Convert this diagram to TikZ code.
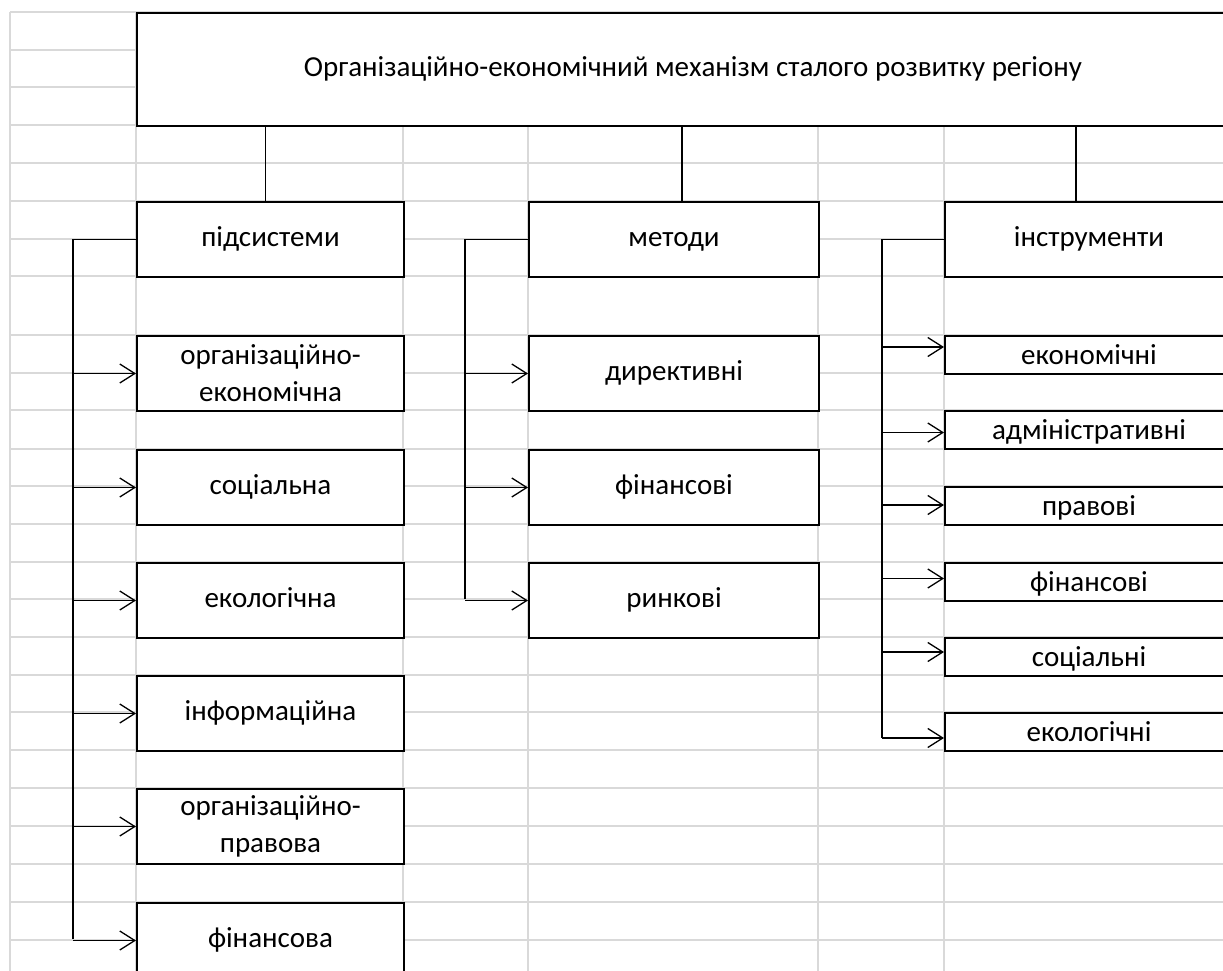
\documentclass[tikz,border=0pt]{standalone}
\usepackage{fontspec}
\setmainfont{Carlito}
\usetikzlibrary{arrows.meta}
\definecolor{gridc}{HTML}{D9D9D9}
\newcommand{\txtfont}{\fontsize{29}{37}\selectfont}
\tikzset{
  gridline/.style={draw=gridc, line width=1.3pt},
  box/.style={draw=black, line width=2pt, fill=white, inner sep=0pt, align=center,
              font=\txtfont, anchor=north west, text height=21pt, text depth=7.5pt},
  twoline/.style={text height=, text depth=},
  lbox/.style={box, minimum width=267pt, minimum height=75pt},
  mbox/.style={box, minimum width=290pt, minimum height=75pt},
  rbox/.style={box, minimum width=288pt, minimum height=38pt, text depth=2pt},
  conn/.style={draw=black, line width=1.3pt},
  arr/.style={conn, -{Straight Barb[length=15pt,width=19pt,line width=1.3pt]}},
}
\begin{document}
\begin{tikzpicture}[x=1pt,y=-1pt]
\useasboundingbox (0,0) rectangle (1223,971);
\clip (0,0) rectangle (1223,971);
\fill[white] (0,0) rectangle (1223,971);
% spreadsheet grid
\foreach \yy in {12,50,87,125,163,201,239,276,335,373,410,449,486,524,562,599,637,675,712,750,788,826,864,902,940}
  \draw[gridline] (10,\yy) -- (1230,\yy);
\foreach \xx in {10,136,403,528,818,944}
  \draw[gridline] (\xx,12) -- (\xx,980);
% main box
\node[box, minimum width=1112pt, minimum height=113pt] (main) at (136,12)
  {Організаційно-економічний механізм сталого розвитку регіону};
% column heads
\node[lbox] (sub) at (136,201) {підсистеми};
\node[mbox] (met) at (528,201) {методи};
\node[box, minimum width=288pt, minimum height=75pt] (ins) at (944,201) {інструменти};
% left column
\node[lbox, twoline] (s1) at (136,335) {організаційно-\\економічна};
\node[lbox] (s2) at (136,449) {соціальна};
\node[lbox] (s3) at (136,562) {екологічна};
\node[lbox] (s4) at (136,675) {інформаційна};
\node[lbox, twoline] (s5) at (136,788) {організаційно-\\правова};
\node[lbox] (s6) at (136,902) {фінансова};
% middle column
\node[mbox] (m1) at (528,335) {директивні};
\node[mbox] (m2) at (528,449) {фінансові};
\node[mbox] (m3) at (528,562) {ринкові};
% right column
\node[rbox] (r1) at (944,335) {економічні};
\node[rbox] (r2) at (944,410) {адміністративні};
\node[rbox] (r3) at (944,486) {правові};
\node[rbox] (r4) at (944,562) {фінансові};
\node[rbox] (r5) at (944,637) {соціальні};
\node[rbox] (r6) at (944,712) {екологічні};
% connectors from main box
\draw[conn] ([xshift=-5pt]sub.north) -- ([xshift=-5pt]sub.north |- main.south);
\draw[conn] ([xshift=8pt]met.north) -- ([xshift=8pt]met.north |- main.south);
\draw[conn] ([xshift=-13pt]ins.north) -- ([xshift=-13pt]ins.north |- main.south);
% left bracket
\coordinate (lb) at (73,939);
\draw[conn] (sub.west) -| (lb);
\foreach \n in {s1,s2,s3,s4,s5,s6}
  \draw[arr] (lb |- \n.west) -- (\n.west);
% middle bracket
\coordinate (mb) at (465,599);
\draw[conn] (met.west) -| (mb);
\foreach \n in {m1,m2,m3}
  \draw[arr] (mb |- \n.west) -- (\n.west);
% right bracket
\coordinate (rb) at (882,738);
\draw[conn] (ins.west) -| (rb);
\coordinate (t1) at ([yshift=8pt]r1.west);
\coordinate (t2) at ([yshift=-2.5pt]r2.west);
\coordinate (t3) at ([yshift=1pt]r3.west);
\coordinate (t4) at ([yshift=3.5pt]r4.west);
\coordinate (t5) at ([yshift=5pt]r5.west);
\coordinate (t6) at ([yshift=-6pt]r6.west);
\foreach \t in {t1,t2,t3,t4,t5,t6}
  \draw[arr] (rb |- \t) -- (\t);
\end{tikzpicture}
\end{document}
